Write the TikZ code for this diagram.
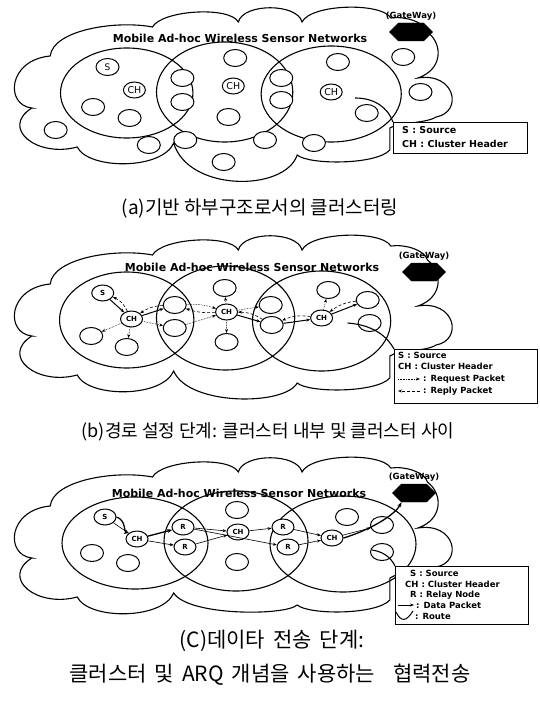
\documentclass[tikz,border=0pt]{standalone}
\usepackage{fontspec}
\setsansfont{DejaVu Sans}
\newfontfamily\krfont{Noto Sans CJK KR}
\usepackage{tikz}
\usetikzlibrary{shapes,arrows.meta,positioning,calc}

\begin{document}
\begin{tikzpicture}[
    x=1pt, y=-1pt,
    sensor/.style={ellipse, draw, fill=white, line width=1pt, minimum width=23pt, minimum height=17pt, inner sep=0pt, font=\sffamily\fontsize{9}{10}\selectfont},
    head/.style={sensor, minimum width=22pt, minimum height=16pt, font=\sffamily\fontsize{9.5}{10}\selectfont},
    boldhead/.style={head, font=\sffamily\bfseries\fontsize{7}{8}\selectfont},
    cluster/.style={line width=1.1pt},
    cloudline/.style={line width=1.1pt},
    gateway/.style={signal, signal to=east and west, fill=black, draw=black, minimum width=43pt, minimum height=18pt, inner sep=0pt},
    gwlabel/.style={font=\sffamily\bfseries\fontsize{8.5}{9}\selectfont, inner sep=1pt},
    nettitle/.style={font=\sffamily\bfseries\fontsize{11}{12}\selectfont},
    legendbox/.style={rectangle, draw, fill=white, line width=1pt, inner sep=0pt, anchor=north west},
    legtext/.style={anchor=west, inner sep=0pt, font=\sffamily\bfseries\fontsize{8.5}{9}\selectfont},
    caption/.style={font=\krfont\fontsize{19}{22}\selectfont},
    request/.style={densely dotted, line width=0.6pt, -{Stealth[length=4pt, width=3pt]}},
    reqroute/.style={line width=1pt, -{Stealth[length=4pt, width=3pt]}},
    reply/.style={dash pattern=on 3pt off 2pt, line width=0.6pt, -{Stealth[length=4pt, width=3pt]}},
    route/.style={line width=1.3pt, -{Stealth[length=5pt, width=4pt]}},
    data/.style={line width=0.6pt, -{Stealth[length=4pt, width=3pt]}},
  ]
  \path[use as bounding box, fill=white] (0,0) rectangle (540,701);

  % clouds, one per panel
  \foreach \dy/\bot in {0/192, 228/178, 450/166}{
    \begin{scope}[shift={(0,\dy)}, xscale=0.965]
      \draw[cloudline] (33,108) .. controls (5,105) and (8,60) .. (52,56)
        .. controls (55,30) and (120,20) .. (158,27)
        .. controls (168,10) and (238,6) .. (247,22)
        .. controls (252,3) and (308,3) .. (313,22)
        .. controls (322,4) and (395,2) .. (405,18)
        .. controls (420,16) and (440,22) .. (443,32)
        .. controls (460,45) and (458,70) .. (433,78)
        .. controls (472,72) and (480,112) .. (452,117)
        .. controls (440,124) and (412,122) .. (404,128)
        -- (404,150)
        .. controls (390,165) and (320,165) .. (308,155)
        .. controls (295,\bot) and (195,\bot) .. (180,143)
        .. controls (168,170) and (92,170) .. (80,147)
        .. controls (38,158) and (0,128) .. cycle;
    \end{scope}
  }

  % ---------- (a) clustering ----------
  \begin{scope}[xscale=0.96]
    \draw[cluster] (132,93) ellipse [x radius=69pt, y radius=45pt];
    \draw[cluster] (234,92) ellipse [x radius=71pt, y radius=50pt];
    \draw[cluster] (345,94) ellipse [x radius=73pt, y radius=48pt];

    \node[sensor] (sA) at (112,67) {S};
    \node[head] (chlA) at (140,90) {CH};
    \node[head] (chmA) at (243,86) {CH};
    \node[head] (chrA) at (345,92) {CH};
    \foreach \n/\p in {a1/{97,107}, a2/{135,118}, o1/{190,78}, o2/{190,102},
                       m1/{245,58}, m2/{238,117}, o3/{293,78}, o4/{293,100},
                       r1/{352,62}, r2/{382,113}, e1/{420,57}, e2/{438,92},
                       e3/{58,130}, b1/{155,145}, b2/{193,140}, b3/{233,162},
                       b4/{276,140}, b5/{327,143}}
      \node[sensor] (\n A) at (\p) {};
    \coordinate (tipA) at (370,98);
  \end{scope}

  \node[nettitle] (titleA) at (240,38) {Mobile Ad-hoc Wireless Sensor Networks};
  \node[gateway] (gwA) at (411,32) {};
  \node[gwlabel, above=1pt of gwA] (gwlA) {(GateWay)};

  \node[legendbox, minimum width=134pt, minimum height=31pt] (legA) at (393,122) {};
  \node[legtext, font=\sffamily\bfseries\fontsize{9.5}{10}\selectfont] (legA1) at (402,130) {S : Source};
  \node[legtext, font=\sffamily\bfseries\fontsize{9.5}{10}\selectfont] (legA2) at (402,144) {CH : Cluster Header};
  \draw[cluster] (tipA) .. controls (375,98) and (388,108) .. (legA.north west);

  \node[caption] (capA) at (260,209) {(a)기반 하부구조로서의 클러스터링};

  % ---------- (b) route set-up ----------
  \begin{scope}[xscale=0.96]
    \draw[cluster] (132,320) ellipse [x radius=70pt, y radius=48pt];
    \draw[cluster] (235,318) ellipse [x radius=72pt, y radius=52pt];
    \draw[cluster] (335,321) ellipse [x radius=72pt, y radius=50pt];

    \node[boldhead] (sB) at (107,293) {S};
    \node[boldhead] (chlB) at (137,319) {CH};
    \node[boldhead] (chmB) at (236,312) {CH};
    \node[boldhead] (chrB) at (335,318) {CH};
    \foreach \n/\p in {a1/{95,336}, a2/{132,347}, o1/{182,305}, o2/{182,328},
                       m1/{234,288}, m2/{236,342}, o3/{282,305}, o4/{283,325},
                       r1/{342,290}, r3/{383,300}, r2/{385,323}}
      \node[sensor] (\n B) at (\p) {};
    \coordinate (tipB) at (362,323);

    \draw[reqroute] (sB) -- (chlB);
    \draw[reply] (chlB) to[bend right=20] (sB);
    \draw[reqroute] (chlB) -- (o1B);
    \draw[reply] (o1B) to[bend right=15] (chlB);
    \draw[request] (o1B) to[bend left=10] (chmB);
    \draw[reply] (chmB) to[bend left=10] (o1B);
    \draw[reqroute] (chmB) -- (o4B);
    \draw[reply] (o4B) to[bend right=15] (chmB);
    \draw[reqroute] (o4B) -- (chrB);
    \draw[reply] (chrB) to[bend right=15] (o4B);
    \draw[reqroute] (chrB) -- (r3B);
    \draw[reply] (r3B) to[bend right=15] (chrB);
    \draw[request] (chlB) -- (a1B);
    \draw[request] (chlB) -- (a2B);
    \draw[request] (chlB) -- (o2B);
    \draw[request] (o2B) -- (chmB);
    \draw[request] (chmB) -- (m1B);
    \draw[request] (chmB) -- (m2B);
    \draw[request] (chmB) -- (o3B);
    \draw[request] (chrB) -- (r1B);
  \end{scope}

  \node[nettitle] (titleB) at (252,267) {Mobile Ad-hoc Wireless Sensor Networks};
  \node[gateway] (gwB) at (424,272) {};
  \node[gwlabel, above=1pt of gwB] (gwlB) {(GateWay)};

  \node[legendbox, minimum width=143pt, minimum height=54pt] (legB) at (394,349) {};
  \node[legtext] (legB1) at (398,355) {S : Source};
  \node[legtext] (legB2) at (398,366) {CH : Cluster Header};
  \node[legtext] (legB3) at (423,379) {: Request Packet};
  \node[legtext] (legB4) at (423,391) {: Reply Packet};
  \draw[request] ($(legB3.west)+(-25,0)$) -- ($(legB3.west)+(-3,0)$);
  \draw[reply] ($(legB4.west)+(-3,0)$) -- ($(legB4.west)+(-25,0)$);
  \draw[cluster] (tipB) .. controls (375,325) and (388,338) .. (legB.north west);

  \node[caption, font=\krfont\fontsize{18}{22}\selectfont] (capB) at (268,432) {(b)경로 설정 단계: 클러스터 내부 및 클러스터 사이};

  % ---------- (c) data transmission ----------
  \draw[cluster] (135,543) ellipse [x radius=73pt, y radius=46pt];
  \draw[cluster] (236,541) ellipse [x radius=72pt, y radius=50pt];
  \draw[cluster] (343,544) ellipse [x radius=73pt, y radius=48pt];

  \node[nettitle] (titleC) at (239,493) {Mobile Ad-hoc Wireless Sensor Networks};
  \node[gateway] (gwC) at (414,493) {};
  \node[gwlabel, above=1pt of gwC] (gwlC) {(GateWay)};

  \node[boldhead] (sC) at (105,517) {S};
  \node[boldhead] (chlC) at (137,539) {CH};
  \node[boldhead] (chmC) at (238,532) {CH};
  \node[boldhead] (chrC) at (332,538) {CH};
  \node[boldhead] (r1tC) at (183,527) {R};
  \node[boldhead] (r1bC) at (185,547) {R};
  \node[boldhead] (r2tC) at (283,527) {R};
  \node[boldhead] (r2bC) at (288,547) {R};
  \foreach \n/\p in {a1/{92,553}, a2/{128,563}, m1/{237,510}, m2/{237,562},
                     r1/{347,517}, r3/{382,525}, r2/{382,552}}
    \node[sensor] (\n C) at (\p) {};

  \draw[data] (sC) -- (chlC);
  \draw[route] (sC.east) .. controls (126,520) and (124,532) .. (chlC.north west);
  \draw[route] (chlC) -- (r1tC);
  \draw[data] (chlC) -- (r1bC);
  \draw[data] (r1tC) -- (chmC);
  \draw[data] (r1bC) -- (chmC);
  \draw[data] (r1tC) -- (r2bC);
  \draw[data] (chmC) -- (r2tC);
  \draw[data] (r2tC) -- (chrC);
  \draw[data] (r2bC) -- (chrC);
  \draw[data] (chrC) -- (r3C);
  \draw[route] (chrC.east) .. controls (370,530) and (395,515) .. (gwC.south west);

  \node[legendbox, minimum width=133pt, minimum height=58pt] (legC) at (395,566) {};
  \node[legtext] (legC1) at (410,573) {S : Source};
  \node[legtext] (legC2) at (405,584) {CH : Cluster Header};
  \node[legtext] (legC3) at (410,595) {R : Relay Node};
  \node[legtext] (legC4) at (416,605) {: Data Packet};
  \node[legtext] (legC5) at (415,616) {: Route};
  \draw[data] ($(legC4.west)+(-18,0)$) -- ($(legC4.west)+(-2,0)$);
  \draw[line width=1pt] ($(legC5.west)+(-19,-4)$) .. controls ($(legC5.west)+(-14,6)$) and ($(legC5.west)+(-9,6)$) .. ($(legC5.west)+(-2,-5)$);
  \coordinate (tipC) at (372,550);
  \draw[cluster] (tipC) .. controls (386,552) and (392,560) .. (legC.north west);

  \node[caption, font=\krfont\fontsize{21}{24}\selectfont, execute at begin node={\spaceskip=8pt\relax}] (capC1) at (272,641) {(C)데이타 전송 단계:};
  \node[caption, font=\krfont\fontsize{21}{24}\selectfont, execute at begin node={\spaceskip=8pt\relax}] (capC2) at (270,675) {클러스터 및 ARQ 개념을 사용하는\hspace{18pt}협력전송};
\end{tikzpicture}
\end{document}
